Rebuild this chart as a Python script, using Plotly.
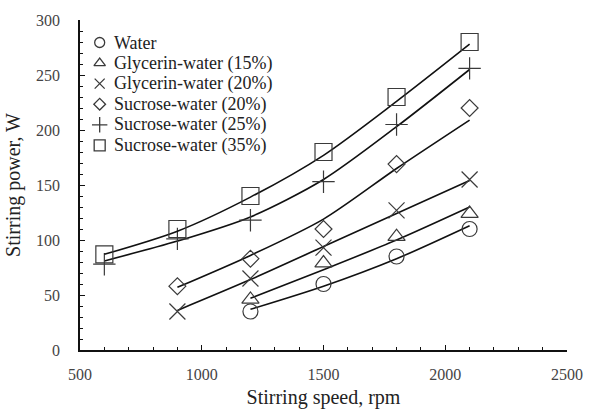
import plotly.graph_objects as go

# Stirring speeds (rpm)
speed = [600, 900, 1200, 1500, 1800, 2100]

# Measured stirring power (W); None where no measurement was taken
water = [None, None, 35, 60, 85, 110]
glycerin_15 = [None, None, 46, 79, 103, 124]
glycerin_20 = [None, 35, 65, 93, 127, 155]
sucrose_20 = [None, 58, 83, 110, 169, 220]
sucrose_25 = [78, 101, 118, 153, 205, 256]
sucrose_35 = [87, 110, 140, 180, 230, 280]

# Predicted stirring power (W) from the correlation curves
water_fit = [None, None, 37, 58, 83, 113]
glycerin_15_fit = [None, None, 47, 73, 100, 130]
glycerin_20_fit = [None, 36, 64, 94, 124, 154]
sucrose_20_fit = [None, 57, 86, 119, 165, 209]
sucrose_25_fit = [81, 99, 121, 155, 203, 255]
sucrose_35_fit = [87, 108, 139, 177, 226, 278]

names = ["Water", "Glycerin-water (15%)", "Glycerin-water (20%)",
         "Sucrose-water (20%)", "Sucrose-water (25%)", "Sucrose-water (35%)"]
measured = [water, glycerin_15, glycerin_20, sucrose_20, sucrose_25, sucrose_35]
predicted = [water_fit, glycerin_15_fit, glycerin_20_fit,
             sucrose_20_fit, sucrose_25_fit, sucrose_35_fit]

symbols = ["circle-open", "triangle-up-open", "x-thin-open",
           "diamond-open", "cross-thin-open", "square-open"]
sizes = [15, 15, 16, 13, 16, 17]
key_sizes = [10, 10, 10, 9, 11, 11]

FONT = "Liberation Serif, Times New Roman, serif"
INK = "#222222"
MARK = "#3a3a3a"

# Plot area in pixels
W, H = 595, 419
L, R, T, B = 80, 20, 13, 69
PW, PH = W - L - R, H - T - B

fig = go.Figure()

for n, m, p, s, sz in zip(names, measured, predicted, symbols, sizes):
    xs = [x for x, v in zip(speed, p) if v is not None]
    ys = [v for v in p if v is not None]
    fig.add_trace(go.Scatter(
        x=xs, y=ys, mode="lines", showlegend=False, hoverinfo="skip",
        line=dict(color="#111111", width=1.6, shape="spline", smoothing=0.8)))
    xm = [x for x, v in zip(speed, m) if v is not None]
    ym = [v for v in m if v is not None]
    fig.add_trace(go.Scatter(
        x=xm, y=ym, mode="markers", name=n, showlegend=False,
        marker=dict(symbol=s, size=sz, color=MARK, line=dict(color=MARK, width=1.2))))

# Key block in the upper-left corner, laid out on a pixel-unit overlay axis
key_x, key_top, key_step, key_gap = 20, 23, 21, 13
for i, (n, s, ks) in enumerate(zip(names, symbols, key_sizes)):
    ky = PH - (key_top + i * key_step)
    fig.add_trace(go.Scatter(
        x=[key_x], y=[ky], xaxis="x2", yaxis="y2", mode="markers",
        showlegend=False, hoverinfo="skip",
        marker=dict(symbol=s, size=ks, color=MARK, line=dict(color=MARK, width=1.3))))
    fig.add_annotation(
        x=key_x + key_gap, y=ky, xref="x2", yref="y2", text=n, showarrow=False,
        xanchor="left", yanchor="middle",
        font=dict(family=FONT, size=18, color=INK))

axis_common = dict(
    showline=True, linecolor="#111111", linewidth=1.5,
    showgrid=False, zeroline=False, mirror=False,
    ticks="inside", ticklen=5, tickwidth=1.2, tickcolor="#111111",
    tickfont=dict(family=FONT, size=16, color="#444444"),
)

xaxis = dict(
    range=[500, 2500], tick0=500, dtick=500,
    minor=dict(ticks="inside", ticklen=3, tickwidth=1, tickcolor="#111111", dtick=100),
    title=dict(text="Stirring speed, rpm", font=dict(family=FONT, size=20, color=INK),
               standoff=8),
    ticklabelstandoff=9,
    **axis_common)
yaxis = dict(
    range=[0, 300], tick0=0, dtick=50,
    minor=dict(ticks="inside", ticklen=3, tickwidth=1, tickcolor="#111111", dtick=10),
    title=dict(text="Stirring power, W", font=dict(family=FONT, size=20, color=INK),
               standoff=10),
    ticklabelstandoff=15,
    **axis_common)

fig.update_layout(
    width=W, height=H,
    margin=dict(l=L, r=R, t=T, b=B),
    paper_bgcolor="white", plot_bgcolor="white",
    font=dict(family=FONT, color=INK),
    showlegend=False,
    xaxis=xaxis,
    yaxis=yaxis,
    xaxis2=dict(range=[0, PW], overlaying="x", anchor="y2", visible=False,
                fixedrange=True),
    yaxis2=dict(range=[0, PH], overlaying="y", anchor="x2", visible=False,
                fixedrange=True),
)

fig.write_html("out.html")
